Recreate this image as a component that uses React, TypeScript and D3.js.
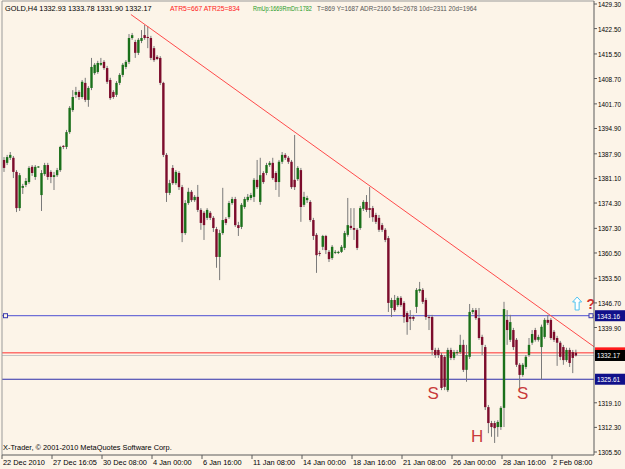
import React, { useLayoutEffect, useRef, useState } from "react";
import * as d3 from "d3";

// [open, high, low, close]
const candles: [number, number, number, number][] = [
  [1386.2,1387.0,1382.9,1384.0],[1385.4,1387.6,1384.8,1387.0],[1386.8,1388.4,1386.2,1387.6],[1386.8,1387.3,1381.2,1382.9],
  [1382.9,1383.4,1371.8,1372.9],[1372.9,1382.6,1372.1,1382.0],[1378.5,1379.6,1376.8,1379.0],[1379.3,1381.2,1378.7,1380.4],
  [1380.1,1384.5,1379.6,1384.0],[1384.3,1384.8,1381.8,1382.6],[1381.5,1384.8,1380.7,1384.3],[1384.3,1384.5,1384.0,1384.4],
  [1376.5,1383.4,1372.1,1382.6],[1382.3,1385.4,1381.8,1384.8],[1384.8,1385.4,1380.7,1381.5],[1382.9,1383.4,1379.8,1381.5],
  [1381.5,1382.9,1377.9,1382.0],[1382.0,1384.0,1381.5,1383.4],[1383.4,1390.1,1382.9,1389.8],[1390.1,1390.3,1389.2,1389.8],
  [1389.8,1394.5,1389.2,1393.9],[1393.9,1401.1,1393.4,1400.6],[1400.0,1405.5,1399.5,1403.6],[1404.2,1406.4,1403.3,1405.0],
  [1405.0,1405.5,1402.8,1403.6],[1403.6,1408.3,1403.1,1407.8],[1407.5,1408.9,1402.2,1402.8],[1402.8,1406.6,1400.9,1406.1],
  [1406.1,1414.4,1405.5,1411.9],[1410.2,1413.0,1409.7,1412.5],[1410.5,1413.6,1410.0,1413.0],[1412.5,1414.4,1412.2,1413.0],
  [1413.3,1413.8,1411.1,1411.6],[1411.6,1412.2,1407.2,1407.8],[1408.3,1408.9,1402.8,1403.3],[1405.0,1405.5,1403.1,1403.6],
  [1404.2,1408.0,1403.6,1407.5],[1407.5,1410.2,1406.9,1409.7],[1409.7,1413.0,1409.1,1412.5],[1411.9,1413.8,1411.3,1413.3],
  [1413.3,1421.0,1412.7,1419.9],[1419.9,1421.3,1419.4,1420.7],[1418.8,1419.4,1414.4,1415.8],[1415.8,1419.9,1415.2,1419.4],
  [1419.1,1422.1,1418.5,1419.9],[1420.7,1423.5,1419.4,1419.9],[1420.2,1423.2,1417.1,1419.9],[1419.9,1420.5,1413.8,1414.4],
  [1417.1,1417.7,1413.3,1413.8],[1414.7,1415.2,1413.8,1414.1],[1414.4,1414.9,1406.9,1407.5],[1407.5,1407.8,1387.0,1387.6],
  [1387.6,1388.1,1374.6,1377.1],[1377.1,1380.7,1376.5,1379.8],[1384.0,1384.8,1379.3,1379.8],[1379.8,1383.4,1379.3,1382.9],
  [1382.6,1383.1,1377.9,1378.7],[1378.7,1379.3,1363.5,1366.0],[1366.0,1375.1,1365.5,1374.3],[1374.3,1378.5,1373.8,1377.4],
  [1377.4,1377.9,1374.6,1375.1],[1375.1,1376.5,1374.6,1376.0],[1376.0,1379.3,1371.8,1372.4],[1372.4,1372.9,1366.9,1368.8],
  [1371.6,1372.1,1364.1,1368.2],[1370.2,1372.9,1369.6,1372.4],[1371.6,1372.1,1369.6,1370.2],[1370.2,1370.7,1366.3,1367.4],
  [1367.1,1367.7,1356.4,1359.4],[1359.4,1366.9,1353.0,1366.0],[1366.0,1378.5,1365.5,1369.6],[1369.9,1370.4,1368.2,1368.8],
  [1370.4,1374.9,1369.9,1374.3],[1374.3,1376.0,1373.8,1375.4],[1375.4,1376.0,1367.7,1368.2],[1368.2,1369.1,1365.2,1367.4],
  [1367.7,1374.3,1367.1,1373.8],[1373.2,1376.0,1372.7,1375.4],[1375.1,1376.8,1374.6,1376.0],[1375.7,1377.1,1375.1,1376.5],
  [1376.0,1381.2,1374.6,1380.7],[1380.7,1386.2,1378.2,1378.7],[1374.6,1386.8,1373.8,1382.0],[1382.6,1383.1,1379.6,1380.1],
  [1382.6,1385.4,1382.0,1384.8],[1384.8,1385.9,1384.3,1385.4],[1385.4,1386.8,1380.7,1381.2],[1382.6,1383.1,1377.9,1380.1],
  [1380.1,1386.2,1376.0,1385.7],[1385.7,1388.4,1385.1,1387.6],[1387.6,1388.1,1386.2,1386.8],[1386.8,1387.3,1385.1,1385.7],
  [1385.7,1386.2,1378.2,1378.7],[1380.7,1393.1,1377.9,1378.7],[1380.9,1384.5,1380.4,1384.0],[1383.4,1384.0,1369.1,1373.2],
  [1373.8,1377.4,1373.2,1376.0],[1375.1,1376.3,1374.3,1375.7],[1374.6,1375.1,1369.1,1369.6],[1369.6,1370.2,1364.1,1365.2],
  [1365.5,1366.0,1355.0,1359.9],[1360.5,1361.1,1359.6,1360.4],[1362.2,1365.5,1361.3,1365.2],[1365.2,1365.5,1360.2,1361.3],
  [1360.8,1361.3,1358.0,1358.8],[1359.1,1362.7,1358.6,1362.2],[1360.7,1361.3,1360.2,1360.8],[1360.5,1361.1,1360.2,1360.8],
  [1360.8,1362.7,1360.5,1362.2],[1361.9,1366.6,1361.3,1366.0],[1365.5,1375.7,1365.0,1368.2],[1368.0,1372.9,1366.9,1367.4],
  [1367.4,1372.9,1364.1,1366.9],[1366.9,1367.4,1361.3,1361.9],[1367.4,1373.5,1366.9,1372.9],[1372.7,1375.1,1372.1,1374.6],
  [1374.6,1376.5,1371.8,1372.4],[1372.9,1378.7,1370.2,1372.4],[1372.9,1373.5,1369.1,1370.4],[1371.0,1371.6,1368.5,1369.1],
  [1370.2,1371.0,1366.3,1366.9],[1368.2,1368.8,1366.3,1366.9],[1366.9,1367.4,1363.5,1364.1],[1364.6,1365.2,1344.2,1346.7],
  [1345.3,1348.1,1342.8,1347.5],[1347.5,1348.9,1344.2,1344.7],[1346.1,1348.6,1345.6,1348.1],[1348.1,1348.6,1345.6,1346.1],
  [1346.7,1347.2,1341.2,1342.8],[1343.9,1344.4,1337.9,1341.4],[1342.8,1344.7,1339.2,1342.3],[1342.8,1343.4,1341.7,1342.3],
  [1345.6,1350.8,1343.9,1350.3],[1350.0,1352.5,1349.5,1350.5],[1350.3,1350.8,1346.4,1347.0],[1347.5,1348.1,1342.0,1342.8],
  [1342.8,1343.4,1339.2,1342.5],[1342.8,1343.4,1332.3,1333.7],[1333.7,1334.3,1331.5,1332.3],[1333.7,1334.3,1331.5,1332.3],
  [1332.3,1332.9,1322.6,1323.2],[1331.8,1332.3,1322.6,1323.5],[1322.6,1334.3,1322.1,1333.7],[1333.7,1334.3,1330.9,1331.5],
  [1331.5,1333.7,1330.9,1333.1],[1332.9,1333.7,1332.3,1333.1],[1333.1,1337.9,1332.6,1335.1],[1335.1,1336.5,1327.6,1328.2],
  [1328.2,1335.1,1324.9,1332.3],[1331.8,1346.4,1331.2,1344.2],[1344.2,1345.3,1343.6,1344.7],[1344.7,1345.3,1342.0,1342.5],
  [1342.5,1345.3,1336.5,1337.0],[1337.3,1337.9,1332.3,1335.1],[1334.5,1335.1,1317.1,1317.9],[1317.9,1318.5,1310.7,1313.5],
  [1313.5,1314.1,1309.7,1312.4],[1313.5,1314.1,1308.0,1312.1],[1312.4,1314.3,1309.7,1313.8],[1312.4,1318.2,1311.6,1317.7],
  [1317.7,1347.0,1312.4,1345.0],[1342.0,1344.7,1335.1,1339.2],[1336.5,1343.4,1335.9,1341.4],[1339.2,1339.8,1333.7,1334.5],
  [1336.5,1337.0,1329.0,1329.6],[1329.6,1330.1,1322.6,1326.8],[1326.8,1330.1,1326.3,1329.6],[1329.0,1332.3,1328.4,1331.8],
  [1332.3,1337.0,1331.8,1335.1],[1335.7,1339.2,1335.1,1338.1],[1339.2,1339.8,1336.0,1336.5],[1336.5,1337.9,1336.0,1337.3],
  [1334.5,1340.7,1325.4,1340.1],[1337.3,1342.5,1336.8,1342.0],[1342.0,1343.4,1340.6,1341.2],[1342.0,1342.5,1336.5,1337.0],
  [1338.7,1339.2,1335.9,1336.5],[1337.0,1337.6,1329.3,1335.7],[1335.7,1336.2,1330.9,1331.8],[1334.5,1335.1,1329.6,1330.9],
  [1330.9,1334.3,1330.4,1333.7],[1333.7,1334.3,1329.0,1330.1],[1333.1,1333.7,1327.3,1331.5],[1332.93,1333.78,1331.90,1332.17],
];

const priceTicks = [1429.3, 1422.5, 1415.5, 1408.7, 1401.7, 1394.9, 1387.9, 1381.1, 1374.3, 1367.3, 1360.5, 1353.5, 1346.7, 1339.9, 1319.1, 1312.3, 1305.5];
const timeTickBars = [0, 16, 32, 48, 64, 80, 96, 112, 128, 144, 160, 176];
const timeLabels = ["22 Dec 2010", "27 Dec 16:05", "30 Dec 08:00", "4 Jan 00:00", "6 Jan 16:00", "11 Jan 08:00", "14 Jan 00:00", "18 Jan 16:00", "21 Jan 08:00", "26 Jan 00:00", "28 Jan 16:00", "2 Feb 08:00"];

const resistancePrice = 1343.16;
const supportPrice = 1325.61;
const bidPrice = 1332.17;
const askPrice = 1332.9;
const trendPoints = [{ bar: 40.6, price: 1426.4 }, { bar: 188.8, price: 1334.6 }];
const patternLabels = [
  { text: "S", bar: 137.3, price: 1321.8 },
  { text: "H", bar: 151.4, price: 1309.9 },
  { text: "S", bar: 166.0, price: 1321.8 },
];
const arrowMark = { bar: 183.4, price: 1346.4 };
const questionMark = { bar: 187.8, price: 1346.4 };

const headerParts = [
  { text: "GOLD,H4 1332.93 1333.78 1331.90 1332.17", color: "#000000", x: 5, len: 147 },
  { text: "ATR5=667 ATR25=834", color: "#ff1a1a", x: 170, len: 70 },
  { text: "RmUp:1669RmDn:1782", color: "#1e9a1e", x: 253, len: 59 },
  { text: "T=869 Y=1687 ADR=2160 5d=2678 10d=2311 20d=1964", color: "#555555", x: 317, len: 160 },
];

const W = 625, H = 469;
const plotL = 2, plotR = 594, plotT = 1, plotB = 455;
const BG = "#fcf4e8";
const UP = "#1a701a";
const DOWN = "#7c0c2c";
const WICK = "#7a7a7a";
const FONT = "'Liberation Sans', Arial, sans-serif";

function FitText({ x, y, len, fill, fontSize, children }: { x: number; y: number; len: number; fill: string; fontSize: number; children: string }) {
  const ref = useRef<SVGTextElement>(null);
  const [s, setS] = useState(1);
  useLayoutEffect(() => {
    if (ref.current) {
      const natural = ref.current.getComputedTextLength();
      if (natural > 0) setS(len / natural);
    }
  }, [len, children]);
  return (
    <text ref={ref} transform={`translate(${x},${y}) scale(${s},1)`} x={0} y={0} fill={fill} fontSize={fontSize} fontFamily={FONT}>{children}</text>
  );
}

export default function App() {
  const x = d3.scaleLinear().domain([0, 188.8]).range([4, 594]);
  const y = d3.scaleLinear().domain([1305.5, 1429.3]).range([452, 4]);
  const bw = 2.4;

  const trendLine = d3.line<{ bar: number; price: number }>().x(d => x(d.bar)).y(d => y(d.price));

  const ax = x(arrowMark.bar), ay = y(arrowMark.price);
  const arrowPath = `M${ax},${ay - 7} L${ax + 4.5},${ay - 2} L${ax + 2},${ay - 2} L${ax + 2},${ay + 6} L${ax - 2},${ay + 6} L${ax - 2},${ay - 2} L${ax - 4.5},${ay - 2} Z`;

  const priceBox = (p: number, bg: string, label: string | null, key: string) => (
    <g key={key}>
      <rect x={595} y={y(p) - 5.5} width={30} height={11} fill={bg} />
      {label && <FitText x={597} y={y(p) + 3} len={23} fill="#ffffff" fontSize={8}>{label}</FitText>}
    </g>
  );

  return (
    <svg width={W} height={H} style={{ position: "fixed", left: 0, top: 0, background: BG }}>
      <rect x={0} y={0} width={W} height={H} fill={BG} />
      <defs>
        <clipPath id="plot"><rect x={plotL} y={plotT} width={plotR - plotL} height={plotB - plotT} /></clipPath>
      </defs>

      {/* horizontal lines */}
      <g clipPath="url(#plot)">
        <line x1={plotL} x2={plotR} y1={y(resistancePrice)} y2={y(resistancePrice)} stroke="#6f6fd6" strokeWidth={1.3} />
        <line x1={plotL} x2={plotR} y1={y(supportPrice)} y2={y(supportPrice)} stroke="#2e2eaa" strokeWidth={1.1} />
        <line x1={plotL} x2={plotR} y1={y(askPrice)} y2={y(askPrice)} stroke="#ff3030" strokeWidth={1} />
        <line x1={plotL} x2={plotR} y1={y(bidPrice)} y2={y(bidPrice)} stroke="#c4c4c4" strokeWidth={1} />
      </g>

      {/* candles */}
      <g clipPath="url(#plot)">
        {candles.map(([o, h, l, c], i) => {
          const cx = x(i);
          const up = c >= o;
          const top = y(Math.max(o, c));
          const bot = y(Math.min(o, c));
          return (
            <g key={i}>
              <line x1={cx} x2={cx} y1={y(h)} y2={y(l)} stroke={WICK} strokeWidth={1} />
              <rect x={cx - bw / 2} y={top} width={bw} height={Math.max(1, bot - top)} fill={up ? UP : DOWN} />
            </g>
          );
        })}
      </g>

      {/* trendline */}
      <g clipPath="url(#plot)">
        <path d={trendLine(trendPoints) || ""} stroke="#ff4a4a" strokeWidth={1} fill="none" />
      </g>

      {/* selection squares on resistance line */}
      <rect x={plotL + 1.5} y={y(resistancePrice) - 2} width={4} height={4} fill={BG} stroke="#3a3ab0" strokeWidth={1} />
      <rect x={plotR - 5} y={y(resistancePrice) - 2} width={4} height={4} fill={BG} stroke="#3a3ab0" strokeWidth={1} />

      {/* pattern labels */}
      {patternLabels.map((p, i) => (
        <text key={i} x={x(p.bar)} y={y(p.price)} textAnchor="middle" dominantBaseline="central" fill="#c83a3a" fontSize={17} fontFamily={FONT}>{p.text}</text>
      ))}

      {/* arrow and question mark */}
      <path d={arrowPath} fill="#ffffff" stroke="#4fc3f0" strokeWidth={1} />
      <text x={x(questionMark.bar)} y={y(questionMark.price) + 5} textAnchor="middle" fill="#d03030" fontSize={14} fontWeight="bold" fontFamily={FONT}>?</text>

      {/* frame */}
      <line x1={plotL} x2={plotL} y1={plotT} y2={plotB} stroke="#9a9a9a" strokeWidth={1} />
      <line x1={plotL} x2={plotR} y1={plotT} y2={plotT} stroke="#9a9a9a" strokeWidth={1} />
      <line x1={plotR} x2={plotR} y1={plotT} y2={plotB} stroke="#5a5a5a" strokeWidth={1} />
      <line x1={plotL} x2={plotR} y1={plotB} y2={plotB} stroke="#5a5a5a" strokeWidth={1} />

      {/* header */}
      {headerParts.map((p, i) => (
        <FitText key={i} x={p.x} y={11} len={p.len} fill={p.color} fontSize={8}>{p.text}</FitText>
      ))}

      {/* copyright */}
      <FitText x={3} y={450} len={169} fill="#000000" fontSize={8}>X-Trader, © 2001-2010 MetaQuotes Software Corp.</FitText>

      {/* price axis */}
      {priceTicks.map((p, i) => (
        <g key={i}>
          <line x1={plotR} x2={plotR + 3} y1={y(p)} y2={y(p)} stroke="#5a5a5a" />
          <FitText x={598} y={y(p) + 3} len={23} fill="#000000" fontSize={8}>{p.toFixed(2)}</FitText>
        </g>
      ))}
      {priceBox(askPrice, "#ff1a1a", null, "ask")}
      {priceBox(resistancePrice, "#10108a", resistancePrice.toFixed(2), "res")}
      {priceBox(bidPrice, "#000000", bidPrice.toFixed(2), "bid")}
      {priceBox(supportPrice, "#10108a", supportPrice.toFixed(2), "sup")}

      {/* time axis */}
      {timeTickBars.map((b, i) => {
        const tx = x(b) - 2;
        return (
          <g key={i}>
            <line x1={tx} x2={tx} y1={plotB} y2={plotB + 4} stroke="#5a5a5a" />
            <text x={tx + 1} y={465} fill="#000" fontSize={7.4} fontFamily={FONT}>{timeLabels[i]}</text>
          </g>
        );
      })}
    </svg>
  );
}
